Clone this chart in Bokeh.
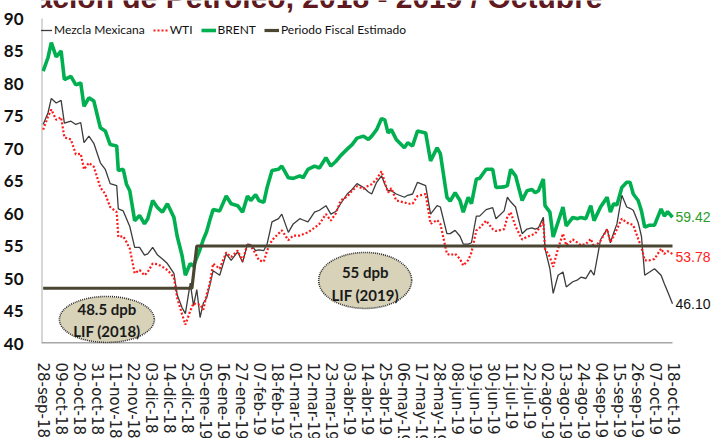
import pandas as pd
from bokeh.plotting import figure
from bokeh.models import FixedTicker, Range1d, Label, Legend, LegendItem
from bokeh.core.properties import value
from bokeh.embed import file_html
from bokeh.resources import INLINE

# ---------------- data ----------------
dates = [
    "2018-09-28", "2018-10-01", "2018-10-03", "2018-10-06", "2018-10-09", "2018-10-11",
    "2018-10-15", "2018-10-18", "2018-10-21", "2018-10-23", "2018-10-26", "2018-10-29",
    "2018-11-02", "2018-11-05", "2018-11-08", "2018-11-12", "2018-11-13", "2018-11-16",
    "2018-11-18", "2018-11-20", "2018-11-23", "2018-11-26", "2018-11-29",
    "2018-12-01", "2018-12-04", "2018-12-07", "2018-12-10", "2018-12-13", "2018-12-17",
    "2018-12-19", "2018-12-22", "2018-12-24", "2018-12-27", "2018-12-29", "2018-12-31",
    "2019-01-02", "2019-01-04", "2019-01-06", "2019-01-08", "2019-01-10", "2019-01-14",
    "2019-01-18", "2019-01-21", "2019-01-25", "2019-01-28", "2019-01-31",
    "2019-02-02", "2019-02-05", "2019-02-07", "2019-02-10", "2019-02-12", "2019-02-15",
    "2019-02-19", "2019-02-21", "2019-02-25", "2019-02-28",
    "2019-03-04", "2019-03-06", "2019-03-09", "2019-03-13", "2019-03-16", "2019-03-20",
    "2019-03-23", "2019-03-26", "2019-03-29",
    "2019-04-02", "2019-04-05", "2019-04-08", "2019-04-12", "2019-04-15", "2019-04-17",
    "2019-04-20", "2019-04-23", "2019-04-25", "2019-04-27", "2019-04-29",
    "2019-05-02", "2019-05-07", "2019-05-09", "2019-05-12", "2019-05-15", "2019-05-20",
    "2019-05-23", "2019-05-27", "2019-05-29",
    "2019-06-02", "2019-06-04", "2019-06-07", "2019-06-10", "2019-06-12", "2019-06-15",
    "2019-06-17", "2019-06-20", "2019-06-22", "2019-06-26", "2019-06-30",
    "2019-07-02", "2019-07-07", "2019-07-09", "2019-07-11", "2019-07-14", "2019-07-18",
    "2019-07-21", "2019-07-24", "2019-07-26", "2019-07-28", "2019-07-31",
    "2019-08-01", "2019-08-04", "2019-08-06", "2019-08-09", "2019-08-12", "2019-08-14",
    "2019-08-18", "2019-08-21", "2019-08-23", "2019-08-26", "2019-08-29", "2019-08-31",
    "2019-09-04", "2019-09-08", "2019-09-10", "2019-09-12", "2019-09-14", "2019-09-17",
    "2019-09-20", "2019-09-22", "2019-09-24", "2019-09-27", "2019-09-29",
    "2019-10-01", "2019-10-04", "2019-10-07", "2019-10-11", "2019-10-13", "2019-10-15",
    "2019-10-18",
]

brent = [
    81.9, 84.0, 86.3, 84.1, 85.0, 80.6, 81.1, 79.8, 80.1, 76.5, 77.8, 77.3,
    73.2, 72.7, 70.6, 70.4, 66.6, 66.8, 64.5, 63.5, 58.9, 59.7, 58.4,
    59.2, 62.0, 60.9, 60.2, 61.5, 59.4, 56.5, 53.5, 50.5, 52.3, 51.9, 53.2,
    54.5, 56.0, 57.2, 59.0, 60.6, 60.4, 62.7, 61.5, 61.2, 60.2, 62.7,
    62.0, 62.9, 62.0, 61.7, 64.0, 66.6, 66.8, 67.3, 65.5, 65.4,
    65.8, 65.5, 66.8, 67.3, 67.0, 68.6, 67.3, 68.0, 68.9,
    69.9, 70.6, 71.6, 71.9, 71.4, 71.9, 72.9, 74.6, 74.4, 72.4, 72.9,
    71.4, 70.1, 70.9, 70.4, 72.7, 72.4, 68.1, 70.1, 69.2,
    62.5, 61.9, 63.2, 62.0, 60.2, 62.5, 61.5, 65.3, 65.4, 66.8, 66.8,
    64.0, 64.1, 64.3, 66.8, 65.8, 62.0, 63.5, 63.7, 63.2, 63.5, 65.3,
    61.2, 60.2, 56.4, 58.7, 61.0, 58.1, 59.4, 59.2, 59.4, 59.2, 61.2, 58.9,
    61.0, 62.5, 60.2, 61.5, 61.3, 64.0, 64.8, 64.8, 63.0, 62.0, 60.4,
    57.9, 58.2, 58.2, 60.7, 59.6, 60.3, 59.42,
]

mezcla = [
    73.7, 75.5, 77.7, 77.0, 77.4, 73.9, 74.2, 73.7, 74.0, 70.9, 71.9, 70.8,
    67.8, 66.8, 64.6, 64.3, 60.7, 60.4, 59.2, 58.0, 54.8, 54.8, 53.6,
    53.8, 54.8, 53.6, 53.0, 52.3, 50.8, 47.5, 45.5, 44.6, 49.3, 45.8, 48.3,
    44.0, 46.2, 47.0, 49.0, 51.2, 50.5, 53.8, 52.8, 54.1, 52.5, 55.3,
    55.2, 54.3, 54.4, 54.3, 55.3, 58.7, 59.2, 59.9, 57.1, 58.4,
    59.2, 59.0, 58.7, 60.2, 60.5, 61.2, 59.9, 60.3, 61.5,
    63.0, 63.7, 64.6, 64.0, 63.3, 63.0, 64.8, 65.8, 64.5, 63.5, 63.5,
    63.0, 62.5, 62.8, 63.0, 64.8, 64.3, 59.9, 61.2, 61.0,
    56.9, 56.9, 57.4, 56.5, 55.3, 55.3, 55.5, 59.6, 59.6, 60.6, 60.9,
    59.2, 60.4, 62.5, 61.8, 61.0, 56.9, 57.6, 57.8, 57.6, 57.8, 59.4,
    54.6, 51.5, 47.7, 50.5, 51.0, 48.7, 49.5, 49.8, 50.2, 50.0, 51.3, 50.5,
    56.0, 57.6, 55.5, 57.0, 58.4, 62.8, 61.0, 60.8, 60.5, 58.6, 56.5,
    50.5, 51.0, 51.5, 50.5, 49.2, 48.0, 46.10,
]

wti = [
    72.9, 74.9, 76.0, 74.4, 74.8, 71.7, 71.4, 69.1, 69.2, 66.8, 67.8, 67.2,
    64.0, 63.0, 61.0, 60.2, 56.4, 56.5, 55.6, 54.6, 50.8, 51.3, 50.5,
    51.0, 52.3, 52.2, 51.8, 51.3, 50.2, 47.0, 44.5, 42.9, 45.0, 46.2, 46.0,
    46.0, 45.2, 47.5, 49.3, 52.3, 51.5, 54.0, 53.3, 54.3, 52.7, 55.3,
    55.0, 53.8, 52.8, 52.6, 54.3, 55.9, 56.9, 57.4, 55.9, 56.6,
    56.6, 56.8, 57.1, 57.8, 58.4, 59.9, 58.9, 60.0, 62.0,
    62.6, 63.5, 64.2, 63.8, 64.3, 64.5, 65.3, 66.5, 64.8, 63.2, 63.9,
    62.0, 61.7, 61.5, 61.5, 62.7, 63.0, 58.4, 59.0, 58.4,
    53.8, 53.6, 53.8, 53.0, 52.0, 52.8, 54.0, 57.4, 57.8, 58.9, 57.6,
    57.3, 57.6, 59.5, 60.2, 58.0, 56.0, 56.4, 56.7, 56.9, 57.6, 58.7,
    54.6, 53.3, 51.8, 54.6, 56.9, 55.1, 56.0, 55.5, 55.1, 55.3, 56.1, 54.8,
    55.8, 57.6, 55.6, 56.5, 57.6, 59.2, 58.6, 58.4, 58.2, 56.1, 54.8,
    52.8, 52.8, 53.0, 54.6, 53.8, 54.2, 53.78,
]

fiscal_dates = ["2018-09-28", "2018-12-28", "2018-12-31", "2019-10-18"]
fiscal_vals = [48.5, 48.5, 55.0, 55.0]

tick_labels = [
    "28-sep-18", "09-oct-18", "20-oct-18", "31-oct-18", "11-nov-18", "22-nov-18",
    "03-dic-18", "14-dic-18", "25-dic-18", "05-ene-19", "16-ene-19", "27-ene-19",
    "07-feb-19", "18-feb-19", "01-mar-19", "12-mar-19", "23-mar-19", "03-abr-19",
    "14-abr-19", "25-abr-19", "06-may-19", "17-may-19", "28-may-19", "08-jun-19",
    "19-jun-19", "30-jun-19", "11-jul-19", "22-jul-19", "02-ago-19", "13-ago-19",
    "24-ago-19", "04-sep-19", "15-sep-19", "26-sep-19", "07-oct-19", "18-oct-19",
]
y_ticks = [40, 45, 50, 55, 60, 65, 70, 75, 80, 85, 90]

series_names = ["Mezcla Mexicana", "WTI", "BRENT", "Periodo Fiscal Estimado"]
box_2018 = ["48.5 dpb", "LIF (2018)"]
box_2019 = ["55 dpb", "LIF (2019)"]
title_text = "Cotización de Petróleo, 2018 - 2019 / Octubre"

# ---------------- figure ----------------
dt = pd.to_datetime(dates)
fdt = pd.to_datetime(fiscal_dates)
tick_dt = pd.date_range("2018-09-28", periods=len(tick_labels), freq="11D")
tick_ms = [int(t.value // 10**6) for t in tick_dt]

FRAME_H = 343
x_start = pd.Timestamp("2018-09-27 00:00")
x_end = x_start + pd.Timedelta(days=412.3)   # frame reaches the right edge (room for end labels)
y_top = 40 + FRAME_H / 6.5                   # 6.5 px per dollar; top edge leaves room for title

p = figure(
    frame_width=674, frame_height=FRAME_H, x_axis_type="datetime",
    output_backend="svg", toolbar_location=None, title=None,
    x_range=Range1d(x_start, x_end), y_range=Range1d(40, y_top),
    min_border=0, min_border_left=36,
)
p.outline_line_color = None
p.xgrid.visible = False
p.ygrid.visible = False
p.background_fill_color = "white"

# axes
p.yaxis.ticker = FixedTicker(ticks=y_ticks)
p.yaxis.major_label_text_font = "Lato"
p.yaxis.major_label_text_font_style = "bold"
p.yaxis.major_label_text_font_size = "17px"
p.yaxis.major_label_text_color = "#111111"
p.yaxis.major_label_standoff = 12
p.yaxis.axis_line_color = None

p.xaxis.ticker = FixedTicker(ticks=tick_ms)
p.xaxis.major_label_overrides = {ms: lab for ms, lab in zip(tick_ms, tick_labels)}
p.xaxis.major_label_orientation = "vertical"
p.xaxis.major_label_text_font = "DejaVu Sans"
p.xaxis.major_label_text_font_size = "15px"
p.xaxis.major_label_text_color = "#222222"
p.xaxis.major_label_standoff = 13
p.xaxis.axis_line_color = None

for ax in (p.xaxis, p.yaxis):
    ax.major_tick_line_color = None
    ax.minor_tick_line_color = None

# axis lines drawn only over the data span (like the reference)
p.segment(x0=[x_start], y0=[y_ticks[0]], x1=[x_start], y1=[y_ticks[-1]],
          line_color="#b0b0b0", line_width=2)
p.segment(x0=[x_start], y0=[y_ticks[0]], x1=[dt[-1]], y1=[y_ticks[0]],
          line_color="#a6a6a6", line_width=3)

# annotation ellipses
p.ellipse(x=[pd.Timestamp("2018-11-06")], y=[43.7], width=95, height=46,
          width_units="screen", height_units="screen",
          fill_color="#d7d2b8", line_color="#2b2b2b", line_dash="1 1", line_width=1.6)
p.ellipse(x=[pd.Timestamp("2019-04-13")], y=[49.7], width=93, height=56,
          width_units="screen", height_units="screen",
          fill_color="#d7d2b8", line_color="#2b2b2b", line_dash="1 1", line_width=1.6)

txt_kw = dict(text_font=value("Lato"), text_font_style="bold",
              text_font_size="15px", text_align="center", text_baseline="middle",
              text_color="#1a1a1a")
p.text(x=[pd.Timestamp("2018-11-06")] * 2, y=[45.3, 41.9], text=box_2018, **txt_kw)
p.text(x=[pd.Timestamp("2019-04-13")] * 2, y=[51.0, 47.5], text=box_2019, **txt_kw)

# series
r_mez = p.line(dt, mezcla, line_color="#3c3c3c", line_width=1.3)
r_wti = p.line(dt, wti, line_color="#ff1a1a", line_width=2.2, line_dash="2 2")
r_bre = p.line(dt, brent, line_color="#00b050", line_width=3.6)
r_fis = p.line(fdt, fiscal_vals, line_color="#4b4632", line_width=3.2)

legend = Legend(
    items=[LegendItem(label=n, renderers=[r]) for n, r in
           zip(series_names, [r_mez, r_wti, r_bre, r_fis])],
    orientation="horizontal", location=(-4, 306),
    background_fill_alpha=0, border_line_color=None,
    label_text_font="Lato", label_text_font_size="12px",
    label_text_color="#111111", glyph_width=15, glyph_height=12,
    label_standoff=2, spacing=8, padding=2, margin=0,
    label_height=14,
)
p.add_layout(legend)

# end-value labels
end_style = dict(text_font="Liberation Sans", text_font_size="14px",
                 text_baseline="middle", x_offset=3)
p.add_layout(Label(x=dt[-1], y=brent[-1], text=f"{brent[-1]:.2f}",
                   text_color="#2a9d2a", **end_style))
p.add_layout(Label(x=dt[-1], y=wti[-1] - 0.4, text=f"{wti[-1]:.2f}",
                   text_color="#ff2020", **end_style))
p.add_layout(Label(x=dt[-1], y=mezcla[-1], text=f"{mezcla[-1]:.2f}",
                   text_color="#111111", **end_style))

# title, clipped at the top edge (only its lower part visible, as in the reference)
p.add_layout(Label(x=561, y=FRAME_H - 13, x_units="screen", y_units="screen",
                   text=title_text, text_align="right", text_baseline="bottom",
                   text_font="Liberation Sans", text_font_style="bold",
                   text_font_size="30px", text_color="#5e1a20"))

open("out.html", "w").write(file_html(p, INLINE))
